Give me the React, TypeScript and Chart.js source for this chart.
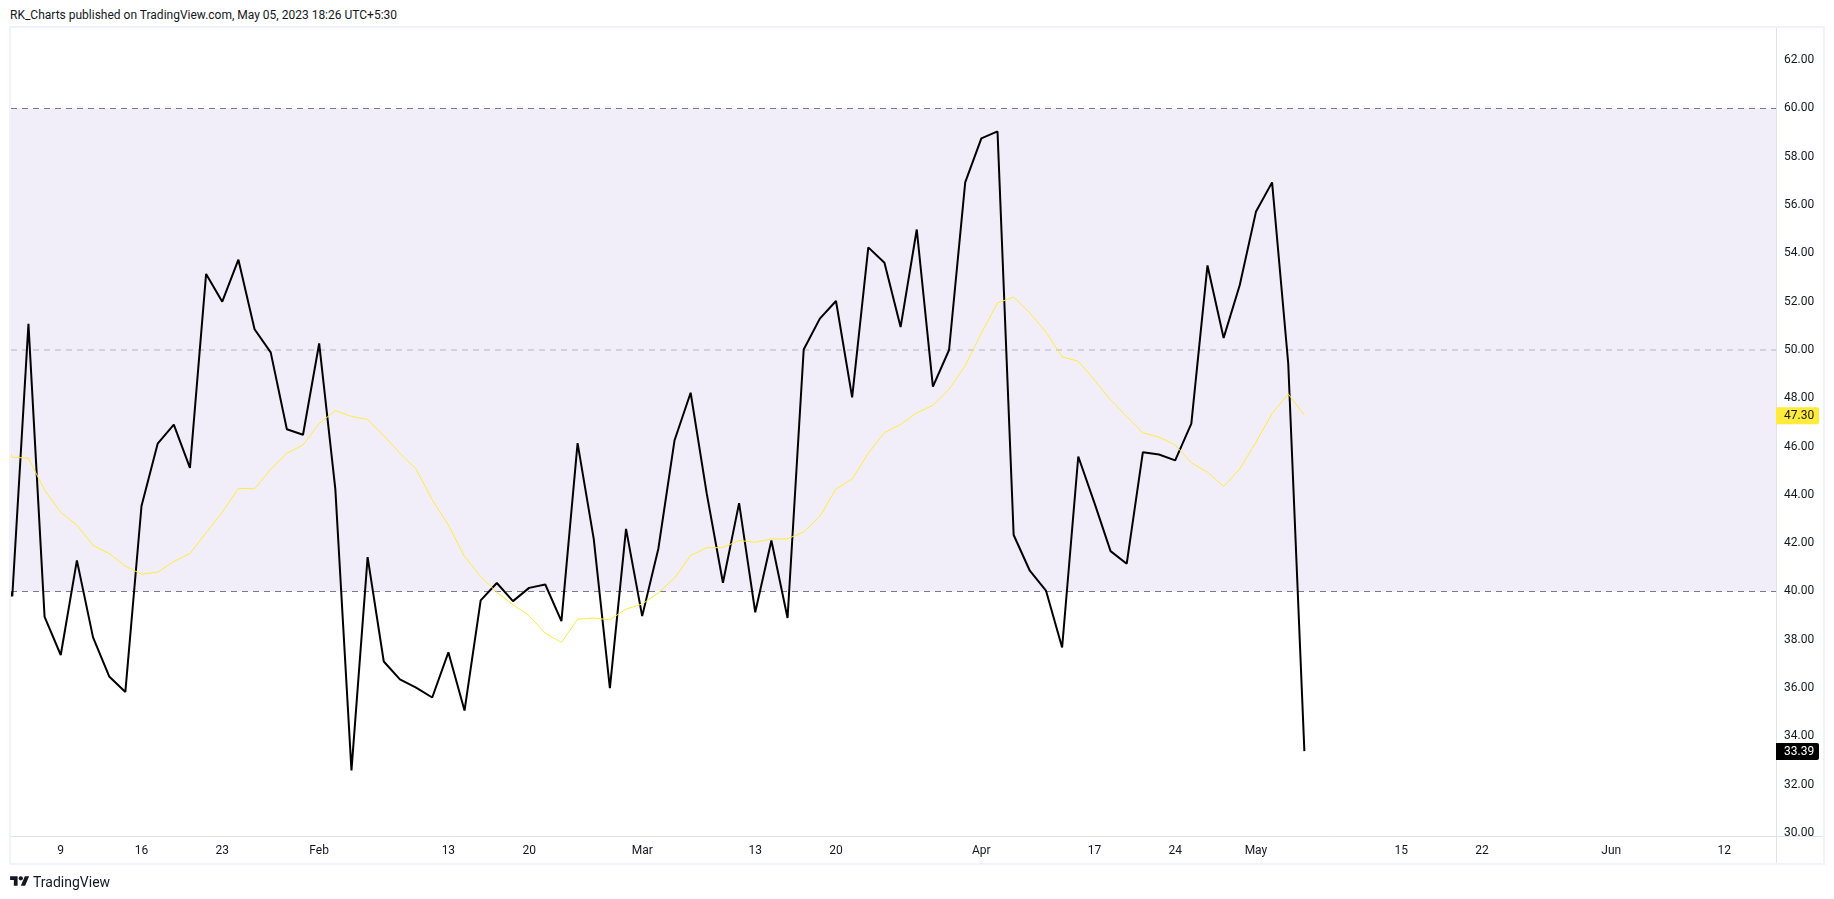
import React, { useEffect, useRef } from "react";
import { Chart, registerables } from "chart.js";

Chart.register(...registerables);

// Index -1 is the session just left of the visible window (clipped by the pane).
const rsiValues = [
  41.1, 39.8, 51.08, 38.95, 37.37, 41.29, 38.1, 36.48, 35.84, 43.54, 46.12, 46.91, 45.12, 53.15, 52.0, 53.74,
  50.86, 49.9, 46.72, 46.49, 50.27, 44.25, 32.59, 41.42, 37.1, 36.36, 36.02, 35.61, 37.48, 35.07, 39.63,
  40.35, 39.6, 40.15, 40.29, 38.77, 46.14, 42.18, 36.0, 42.59, 38.98, 41.77, 46.25, 48.23, 44.04, 40.36,
  43.66, 39.14, 42.11, 38.9, 50.02, 51.3, 52.03, 48.04, 54.25, 53.61, 50.95, 54.99, 48.48, 50.0, 56.94,
  58.76, 59.05, 42.34, 40.86, 40.04, 37.68, 45.59, 43.67, 41.67, 41.15, 45.77, 45.67, 45.43, 46.95, 53.5,
  50.5, 52.69, 55.72, 56.94, 49.44, 33.39,
];
const maValues = [
  47.0, 45.56, 45.52, 44.2, 43.28, 42.75, 41.91, 41.57, 41.05, 40.72, 40.8, 41.24, 41.57, 42.43, 43.28, 44.27,
  44.25, 45.06, 45.72, 46.07, 46.95, 47.49, 47.25, 47.12, 46.46, 45.72, 45.07, 43.8, 42.75, 41.45, 40.62,
  39.97, 39.45, 39.0, 38.27, 37.89, 38.85, 38.9, 38.83, 39.27, 39.48, 39.94, 40.55, 41.49, 41.81, 41.82,
  42.11, 42.04, 42.17, 42.18, 42.47, 43.11, 44.25, 44.65, 45.72, 46.58, 46.92, 47.4, 47.71, 48.37, 49.35,
  50.7, 51.95, 52.19, 51.54, 50.74, 49.72, 49.53, 48.76, 47.93, 47.25, 46.57, 46.39, 46.07, 45.33, 44.94,
  44.35, 45.07, 46.18, 47.37, 48.18, 47.3,
];
const timeTickIndex = [3, 8, 13, 19, 27, 32, 39, 46, 51, 60, 67, 72, 77, 86, 91, 99, 106];
const timeTickLabel = ["9", "16", "23", "Feb", "13", "20", "Mar", "13", "20", "Apr", "17", "24", "May", "15", "22", "Jun", "12"];
const priceTicks = [30, 32, 34, 36, 38, 40, 42, 44, 46, 48, 50, 52, 54, 56, 58, 60, 62];
const bandHigh = 60;
const bandMid = 50;
const bandLow = 40;
const xMin = -0.08;
const xMax = 109.2;
const yMin = 29.875;
const yMax = 63.333;

const FONT = "Roboto, sans-serif";

const toPoints = (values: number[]) => values.map((y, i) => ({ x: i - 1, y }));
const hLine = (y: number) => [
  { x: xMin, y },
  { x: xMax, y },
];

const badgePlugin = {
  id: "lastValueBadges",
  afterDraw(chart: any) {
    const { ctx, chartArea, scales } = chart;
    const badge = (value: number, bg: string, fg: string) => {
      const y = scales.y.getPixelForValue(value);
      const left = chartArea.right;
      ctx.save();
      ctx.fillStyle = bg;
      ctx.beginPath();
      ctx.roundRect(left, y - 8, 43, 17, [0, 2, 2, 0]);
      ctx.fill();
      ctx.fillStyle = fg;
      ctx.font = `12px ${FONT}`;
      ctx.textBaseline = "middle";
      ctx.textAlign = "left";
      ctx.fillText(value.toFixed(2), left + 8, y + 1);
      ctx.restore();
    };
    badge(maValues[maValues.length - 1], "#FFEB3B", "#131722");
    badge(rsiValues[rsiValues.length - 1], "#000000", "#FFFFFF");
  },
};

export default function App() {
  const ref = useRef<HTMLCanvasElement>(null);

  useEffect(() => {
    document.body.style.margin = "0";
    document.body.style.background = "#fff";
    const chart = new Chart(ref.current!, {
      type: "line",
      data: {
        datasets: [
          { label: "RSI MA", data: toPoints(maValues), borderColor: "#FFEB3B", borderWidth: 1, borderJoinStyle: "bevel", pointRadius: 0, tension: 0, fill: false, order: 0 },
          { label: "RSI", data: toPoints(rsiValues), borderColor: "#000000", borderWidth: 2, borderJoinStyle: "bevel", pointRadius: 0, tension: 0, fill: false, order: 1 },
          { label: "Upper", data: hLine(bandHigh), borderColor: "#787B86", borderWidth: 1, borderDash: [6, 5], pointRadius: 0, fill: { value: bandLow }, backgroundColor: "rgba(126,87,194,0.1)", order: 4 },
          { label: "Middle", data: hLine(bandMid), borderColor: "rgba(120,123,134,0.5)", borderWidth: 1, borderDash: [6, 5], pointRadius: 0, fill: false, order: 3 },
          { label: "Lower", data: hLine(bandLow), borderColor: "#787B86", borderWidth: 1, borderDash: [6, 5], pointRadius: 0, fill: false, order: 2 },
        ],
      },
      options: {
        animation: false,
        responsive: false,
        devicePixelRatio: 1,
        parsing: false as any,
        normalized: true,
        layout: { padding: { left: 11, top: 28, right: 9, bottom: 34 } },
        plugins: { legend: { display: false }, tooltip: { enabled: false } },
        scales: {
          x: {
            type: "linear",
            min: xMin,
            max: xMax,
            grid: { display: false, drawTicks: false },
            border: { display: true, color: "#E0E3EB", width: 1 },
            afterBuildTicks: (s: any) => {
              s.ticks = timeTickIndex.map((value) => ({ value }));
            },
            afterFit: (s: any) => {
              s.height = 29;
            },
            ticks: {
              autoSkip: false,
              maxRotation: 0,
              padding: 8,
              color: "#131722",
              font: { family: FONT, size: 12 },
              callback: (v: any) => timeTickLabel[timeTickIndex.indexOf(v)] ?? "",
            },
          },
          y: {
            type: "linear",
            position: "right",
            min: yMin,
            max: yMax,
            grid: { display: false, drawTicks: false },
            border: { display: true, color: "#E0E3EB", width: 1 },
            afterBuildTicks: (s: any) => {
              s.ticks = priceTicks.map((value) => ({ value }));
            },
            afterFit: (s: any) => {
              s.width = 49;
            },
            ticks: {
              autoSkip: false,
              padding: 8,
              color: "#131722",
              font: { family: FONT, size: 12 },
              callback: (v: any) => Number(v).toFixed(2),
            },
          },
        },
      },
      plugins: [badgePlugin],
    } as any);
    return () => chart.destroy();
  }, []);

  return (
    <div style={{ position: "absolute", left: 0, top: 0, width: 1834, height: 899, background: "#fff", overflow: "hidden", fontFamily: FONT, color: "#131722" }}>
      <div style={{ position: "absolute", left: 10, top: 7, fontSize: 12, lineHeight: "16px", whiteSpace: "nowrap" }}>
        RK_Charts published on TradingView.com, May 05, 2023 18:26 UTC+5:30
      </div>
      <canvas ref={ref} width={1834} height={899} style={{ position: "absolute", left: 0, top: 0, display: "block" }} />
      <div style={{ position: "absolute", left: 9, top: 26, width: 1816, height: 839, boxSizing: "border-box", border: "2px solid #F0F3FA", pointerEvents: "none" }} />
      <div style={{ position: "absolute", left: 1776, top: 836, width: 47, height: 27, boxSizing: "border-box", background: "#fff", borderLeft: "1px solid #E0E3EB", borderTop: "1px solid #E0E3EB" }} />
      <svg style={{ position: "absolute", left: 10, top: 874 }} width={19.5} height={15} viewBox="0 0 36 28">
        <path fill="#131722" d="M14 22H7V11H0V4h14v18zM28 22h-8l7.5-18h8L28 22z" />
        <circle fill="#131722" cx="20" cy="8" r="4" />
      </svg>
      <div style={{ position: "absolute", left: 33, top: 872, fontSize: 14, lineHeight: "20px", whiteSpace: "nowrap" }}>TradingView</div>
    </div>
  );
}
